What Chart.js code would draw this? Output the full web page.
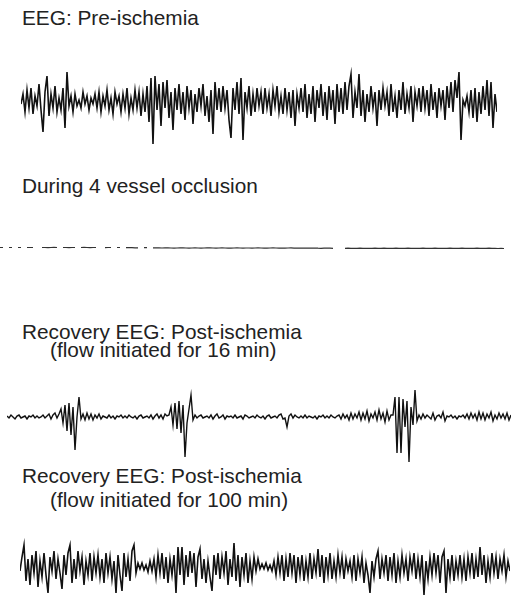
<!DOCTYPE html>
<html>
<head>
<meta charset="utf-8">
<script src="https://cdn.jsdelivr.net/npm/chart.js@4.4.1/dist/chart.umd.min.js"></script>
<style>
  html, body { margin: 0; padding: 0; background: #fff; }
  #page { position: relative; width: 511px; height: 595px; overflow: hidden; background: #fff; }
  .lbl { position: absolute; font-family: "Liberation Sans", Arial, sans-serif; font-size: 20.8px; line-height: 21px; color: #222; white-space: nowrap; }
  .trace { position: absolute; }
</style>
</head>
<body>
<div id="page">
  <div class="lbl" style="left:22px;top:7px">EEG: Pre-ischemia</div>
  <div class="lbl" style="left:22px;top:175px">During 4 vessel occlusion</div>
  <div class="lbl" style="left:22px;top:321px">Recovery EEG: Post-ischemia</div>
  <div class="lbl" style="left:50px;top:339px">(flow initiated for 16 min)</div>
  <div class="lbl" style="left:22px;top:465px">Recovery EEG: Post-ischemia</div>
  <div class="lbl" style="left:50px;top:489px">(flow initiated for 100 min)</div>

  <canvas id="chPre" class="trace" width="476" height="88" style="left:21px;top:62px"></canvas>
  <canvas id="chOcc" class="trace" width="504" height="20" style="left:0px;top:238px"></canvas>
  <canvas id="chRec16" class="trace" width="504" height="93" style="left:7px;top:377px"></canvas>
  <canvas id="chRec100" class="trace" width="490" height="65" style="left:20px;top:530px"></canvas>
</div>
<script>
/* ── Tracce EEG (ampiezza, positivo = in alto), un campione ogni 2-3 px ── */

// Pre-ischemia: 239 campioni
const eegPre = [
  -2, 8, -10, 12, -6, 14, -12, 6, -4, 18, -8, -30, 10, 26, -14, 8, -6, 16, -10, 4,
  -8, 14, -26, 30, -4, 6, -10, 8, -4, 2, -6, 10, -2, 6, -8, 4, -2, 8, -6, 10,
  -10, 6, -4, 12, -8, 4, -12, 10, -2, 6, -10, 8, -6, 14, -12, 4, -8, 12, -6, 10,
  -14, 8, -10, 16, -20, 24, -42, 26, -8, 18, -24, 20, -6, 22, -16, 10, -28, 14, -8, 18,
  -12, 10, -18, 16, -6, 12, -22, 8, -10, 14, -4, 18, -14, 6, -20, 12, -32, 20, -8, 14,
  -10, 16, -6, 12, -18, -36, 14, -8, 20, -12, 24, -38, 10, -6, 16, -14, 8, -10, 14, -4,
  10, -12, 14, -6, 8, -14, 12, -4, 16, -10, 6, -12, 14, -8, 10, -16, 12, -24, 8, -6,
  14, -10, 18, -16, 8, -12, 16, -20, 12, -6, 18, -14, 10, -18, 16, -8, 12, -22, 18, -10,
  14, -12, 20, -8, 16, 28, -16, 10, -6, 28, -14, 12, -20, 8, -10, 16, -6, 10, -24, 12,
  -8, 14, -4, 10, -14, 18, -10, 6, -16, 12, -8, 20, -12, 8, -6, 16, -20, 10, -4, 14,
  -10, 16, -6, 12, -14, 18, -8, 10, -16, 14, -4, 12, -18, 16, -6, 20, -10, 22, 4, 30,
  -38, 2, -4, 6, -10, 12, -16, 14, -20, 10, -12, 16, -8, 22, -14, 20, -26, 8, -10
];

// Occlusione: traccia piatta, tratteggiata dalla riproduzione (null = lacuna)
const eegOcc = [
  0.5, 0.5, null, 0.5, 0.5, null, 0.5, 0.5, null, 0.5, 0.5, 0.5, null, null,
  0.5, 0.5, 0.3, 0.5, 0.6, 0.5, null, 0.5, 0.5, 0.4, 0.5, 0.5, null,
  0.5, 0.6, 0.5, 0.4, 0.5, 0.5, null, null, 0.4, 0.5, 0.5, null, 0.5, 0.5, null, 0.4,
  0.3, 0.3, 0.2, 0.2, null, 0.3, 0.3, null,
  0.2, 0.1, 0.2, 0, 0.1, 0.2, 0, -0.1, 0, 0.1, 0.2, 0, -0.2, 0, 0.1, 0, -0.1, 0, 0.2, 0.1,
  0, -0.1, 0, 0.1, 0, -0.2, -0.1, 0, 0.1, 0, -0.1, 0, 0, -0.2, 0, 0.1, 0, -0.1, -0.2, 0,
  0.1, 0, -0.1, 0, -0.2, 0, 0.1, -0.1, 0, -0.2, -0.1, 0, -0.2, -0.1, 0, -0.2, -0.3, -0.2, -0.1, -0.2, -0.3,
  null, null, null,
  -0.3, -0.2, -0.3, -0.4, -0.3, -0.2, -0.3, -0.4, -0.3, -0.3, -0.2, -0.4, -0.3, -0.2, -0.3, -0.4, -0.3, -0.2,
  -0.3, -0.4, -0.3, -0.2, -0.3, -0.3, -0.4, -0.3, -0.2, -0.3, -0.4, -0.3, -0.2, -0.3, -0.4, -0.3, -0.3, -0.2,
  -0.3, -0.4, -0.3, -0.2, -0.3, -0.4, -0.3, -0.3, -0.2, -0.3, -0.4, -0.3, -0.2, -0.3, -0.4, -0.5, -0.4, -0.5
];

// Recupero 16 min: linea di base con tre scariche (253 campioni)
const eegRec16 = [
  1, -1, 2, 0, -2, 1, 2, -1, 0, 1, -2, 1, 0, 2, -1, 1, -1, 0, 2, -1, 1, 3, -2, 2, 4, -1,
  3, 8, -6, 12, -14, 14, -18, 10, -33, 0, 20, -2,
  3, -3, 4, -2, 3, -3, 2, -1, 3, -2, 1, 0, -1, 2, -1, 1, -2, 1, 0, 2,
  -1, 1, -1, 2, 0, -1, 1, -2, 1, 2, -1, 0, 1, -1, 2, -2, 1, 3, -1, 2, -2, 3, 1,
  2, 10, -8, 14, -12, 16, -16, 12, -40, -6, 8, 22,
  -3, 2, -1, 1, 2, -1, 0, 1, -1, 2, -2, 1, 3, -1, 0, 2, -2, 1, 0, 1,
  -1, 2, -1, 0, 1, -2, 2, 1, -1, 0, 1, -1, 2, 0, -1, 1, -2, 1, 2, -1,
  0, 1, -1, 2, 3, -2, -1, -10, 1, 3, -1, 2, 0, -1, 1, -1, 2, -1, 1, 0,
  -1, 1, -2, 1, 0, 2, -1, 1, -1, 2, 0, -1, 1, 2, -2, 3, -1, 2, -3, 4,
  -2, 3, -1, 5, -3, 4, -2, 6, -4, 3, -1, 5, -3, 7, -2, 4, -5, 6, -3, 2,
  2, 20, -36, 20, -36, 18, -10, 16, -45, 10, -8, 27, -4, 2,
  -2, 3, -1, 2, 0, -2, 4, -3, 1, 2, -1, 5, -4, 1, 0, 2, -1, 1, -2, 1,
  0, 2, -1, 3, -2, 4, -1, 3, -3, 5, -2, 4, -3, 3, -1, 5, -4, 2, -2, 4, -1, 3, -2, 4, -3, 2
];

// Recupero 100 min: attivita' ripristinata (246 campioni)
const eegRec100 = [
  -4, 10, 22, -14, 8, -18, 12, -6, 16, -20, 6, -10, 14, -8, -26, 10, -4, 16, -12, 8,
  -6, -22, 12, -8, 14, 22, -16, 8, -12, 16, -4, 10, -18, 6, -8, 14, -14, 10, -6, 12,
  -10, 8, -16, 14, -6, 10, -12, 6, -26, 12, -8, -24, 14, -10, 8, -14, 16, 22, -6, 4,
  -2, 4, -3, 2, -5, 6, -4, 8, -10, 12, -6, 14, -12, 10, -16, 8, -8, 12, -26, 20,
  -8, 20, -18, 12, -10, 16, -6, 14, -20, 10, 18, -12, 8, -16, 6, -10, -24, 12, -8, 14,
  -12, 10, -6, 16, -18, 8, -10, 24, -14, 12, -20, 10, -8, 14, -16, 6, -12, 10, -4, 8,
  -2, 3, -2, 4, -3, 2, -4, 6, -8, 10, -6, 12, -14, 8, -10, 14, -6, 12, -16, 10,
  -8, 12, -14, 6, -10, 14, -12, 8, -6, 18, -10, 12, -16, 10, -8, 14, -12, 6, -10, 12,
  -6, 10, -12, 8, -4, 6, -10, 12, -14, 8, -6, 10, -16, 4, -8, -26, 6, -10, 8, 16,
  -12, 8, -6, 12, -14, 10, -8, 14, -16, 6, -10, 12, -6, 8, -14, 10, -4, 14, -12, 8,
  -10, 12, -28, 6, -12, 10, -8, 14, -6, 12, -16, 10, 16, -26, 8, -10, 12, -14, 6, -8,
  12, -10, 8, -14, 10, -6, 14, -12, 8, -10, 20, -8, 12, -16, 6, -10, 14, -6, 10, -12,
  8, -4, 12, -10, 6, -4
];

/* range verticale di ogni canvas: lo zero cade sulla linea di base */
const RANGE_PRE = [-48, 40];
const RANGE_OCC = [-10, 10];
const RANGE_REC16 = [-53, 40];
const RANGE_REC100 = [-28, 37];

function makeTrace(id, values, range, width, color) {
  const pts = values.map((v, i) => ({ x: i, y: v }));
  return new Chart(document.getElementById(id), {
    type: 'line',
    data: {
      datasets: [{
        data: pts,
        borderColor: color,
        borderWidth: width,
        pointRadius: 0,
        tension: 0,
        spanGaps: false,
        clip: false
      }]
    },
    options: {
      responsive: false,
      animation: false,
      events: [],
      layout: { padding: 0 },
      plugins: { legend: { display: false }, tooltip: { enabled: false } },
      scales: {
        x: { type: 'linear', display: false, min: 0, max: values.length - 1 },
        y: { display: false, min: range[0], max: range[1] }
      }
    }
  });
}

makeTrace('chPre', eegPre, RANGE_PRE, 1.6, '#111');
makeTrace('chOcc', eegOcc, RANGE_OCC, 1.2, '#333');
makeTrace('chRec16', eegRec16, RANGE_REC16, 1.4, '#111');
makeTrace('chRec100', eegRec100, RANGE_REC100, 1.6, '#111');
</script>
</body>
</html>
